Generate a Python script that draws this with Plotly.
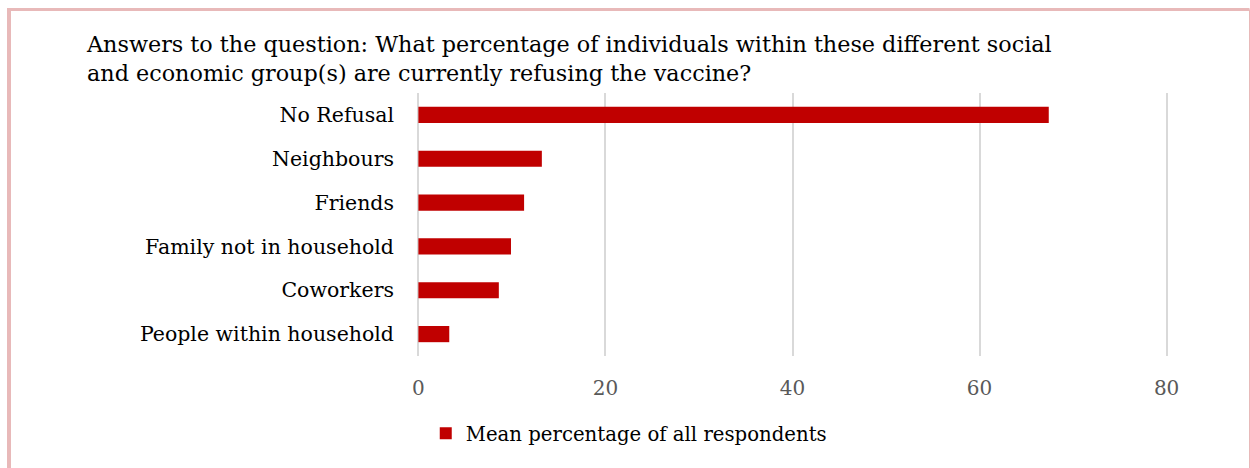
import plotly.graph_objects as go

categories = ["No Refusal", "Neighbours", "Friends", "Family not in household", "Coworkers", "People within household"]
values = [67.4, 13.2, 11.3, 9.9, 8.6, 3.3]
series_name = "Mean percentage of all respondents"
x_ticks = [0, 20, 40, 60, 80]

title_text = ("Answers to the question: What percentage of individuals within these different social<br>"
              "and economic group(s) are currently refusing the vaccine?")

FONT = "DejaVu Serif"
W, H = 1250, 468
L, R, T, B = 417, 82, 93, 112

fig = go.Figure()
fig.add_trace(go.Bar(
    y=categories, x=values, orientation="h", name=series_name,
    marker=dict(color="#C00000", line=dict(width=0)),
    showlegend=True,
))

fig.update_layout(
    width=W, height=H,
    margin=dict(l=L, r=R, t=T, b=B, pad=0),
    paper_bgcolor="white", plot_bgcolor="white",
    font=dict(family=FONT, size=20, color="#000000"),
    bargap=0.63,
    title=dict(text=title_text, x=87 / W, xanchor="left", xref="container",
               y=1 - 52 / H, yanchor="top", yref="container",
               font=dict(family=FONT, size=22.3, color="#000000")),
    xaxis=dict(range=[-0.15, 80.15], tickvals=x_ticks, showgrid=True, gridcolor="#d9d9d9", gridwidth=2,
               zeroline=False, showline=False, ticks="", ticklabelstandoff=18,
               tickfont=dict(family=FONT, size=20, color="#595959")),
    yaxis=dict(autorange="reversed", showgrid=False, zeroline=False, showline=False, ticks="",
               ticklabelstandoff=22, tickfont=dict(family=FONT, size=20.5, color="#000000")),
    legend=dict(orientation="h", x=0.503, xref="container", xanchor="center",
                y=1 - 414 / H, yref="container", yanchor="top",
                font=dict(family=FONT, size=19.7, color="#000000")),
    shapes=[
        dict(type="line", xref="paper", yref="paper", x0=(9 - L) / (W - L - R), x1=(9 - L) / (W - L - R),
             y0=(H - B - 9.5) / (H - T - B), y1=-B / (H - T - B) - 0.1, line=dict(color="#e8b9b9", width=4)),
        dict(type="line", xref="paper", yref="paper", x0=(7 - L) / (W - L - R), x1=(1249.5 - L) / (W - L - R),
             y0=(H - B - 9.5) / (H - T - B), y1=(H - B - 9.5) / (H - T - B), line=dict(color="#e8b9b9", width=3)),
        dict(type="line", xref="paper", yref="paper", x0=(1249.5 - L) / (W - L - R), x1=(1249.5 - L) / (W - L - R),
             y0=(H - B - 9.5) / (H - T - B), y1=-B / (H - T - B) - 0.1, line=dict(color="#e8b9b9", width=1)),
    ],
)

fig.write_html("out.html")
